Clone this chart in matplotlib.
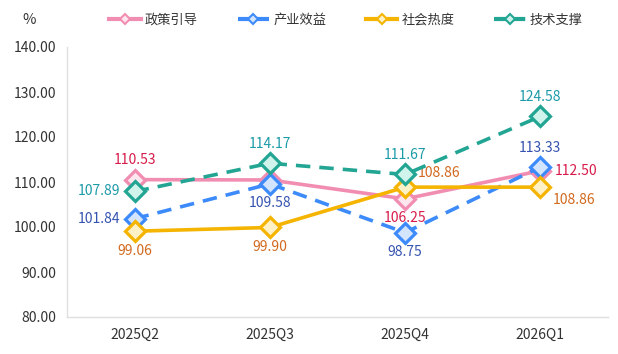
import matplotlib.pyplot as plt
import numpy as np

plt.rcParams['font.family'] = ['Noto Sans CJK SC', 'DejaVu Sans']

quarters = ['2025Q2', '2025Q3', '2025Q4', '2026Q1']
policy = [110.53, 110.45, 106.25, 112.50]
industry = [101.84, 109.58, 98.75, 113.33]
social = [99.06, 99.90, 108.86, 108.86]
tech = [107.89, 114.17, 111.67, 124.58]
names = ['政策引导', '产业效益', '社会热度', '技术支撑']

# line colour, marker fill, label colour, linestyle
styles = [
    ('#f28db2', '#fde6ee', '#d81b4a', '-'),
    ('#3d8bfa', '#d3e4ff', '#3553b0', '--'),
    ('#f4b400', '#fff1c6', '#d2691e', '-'),
    ('#23a594', '#d0f4ec', '#1b9aa8', '--'),
]

# label placement per point: (dx, dy) in points, ha, va; None = hidden
label_pos = [
    [(0, 9, 'center', 'bottom'), None, (0, -9, 'center', 'top'), (10, 0, 'left', 'center')],
    [(-10, 0, 'right', 'center'), (0, -9, 'center', 'top'), (0, -9, 'center', 'top'), (0, 9, 'center', 'bottom')],
    [(0, -9, 'center', 'top'), (0, -9, 'center', 'top'), (9, 5, 'left', 'bottom'), (9, -4, 'left', 'top')],
    [(-10, 0, 'right', 'center'), (0, 9, 'center', 'bottom'), (0, 9, 'center', 'bottom'), (0, 9, 'center', 'bottom')],
]

fig = plt.figure(figsize=(6.18, 3.54), dpi=100)
ax = fig.add_axes([67 / 618, 37 / 354, 541 / 618, 270 / 354])

x = np.arange(len(quarters))
series = [policy, industry, social, tech]
handles = []
for vals, (col, fill, lcol, ls), pos, name in zip(series, styles, label_pos, names):
    ln, = ax.plot(x, vals, color=col, lw=2.6, ls=ls, dashes=(4, 2.5) if ls == '--' else (None, None),
                  marker='D', ms=10, mfc=fill, mec=col, mew=2.3, label=name, zorder=3)
    for xi, v, p in zip(x, vals, pos):
        if p is None:
            continue
        dx, dy, ha, va = p
        ax.annotate(f'{v:.2f}', (xi, v), xytext=(dx, dy), textcoords='offset points',
                    ha=ha, va=va, fontsize=10, color=lcol)
    h, = ax.plot([], [], color=col, lw=3, ls=ls, dashes=(3, 1.5) if ls == '--' else (None, None),
                 marker='D', ms=5.5, mfc=fill, mec=col, mew=1.5)
    handles.append(h)

ax.set_xlim(-0.5, 3.5)
ax.set_ylim(80, 140)
ax.set_yticks(np.arange(80, 141, 10))
ax.set_yticklabels([f'{t:.2f}' for t in np.arange(80, 141, 10)])
ax.set_xticks(x)
ax.set_xticklabels(quarters)
ax.tick_params(length=0, labelsize=10, colors='#333333', pad=8)
for s in ['top', 'right']:
    ax.spines[s].set_visible(False)
for s in ['left', 'bottom']:
    ax.spines[s].set_color('#e0e0e0')
    ax.spines[s].set_linewidth(1)

fig.text(22 / 618, 1 - 20 / 354, '%', fontsize=10.5, color='#333333', ha='left', va='center')
fig.legend(handles, names, loc='center', bbox_to_anchor=(346 / 618, 1 - 20 / 354), ncol=4,
           frameon=False, fontsize=9.5, handlelength=2.4, handletextpad=0.3, columnspacing=3.0,
           labelcolor='#333333')

fig.savefig('out.png', dpi=100)
